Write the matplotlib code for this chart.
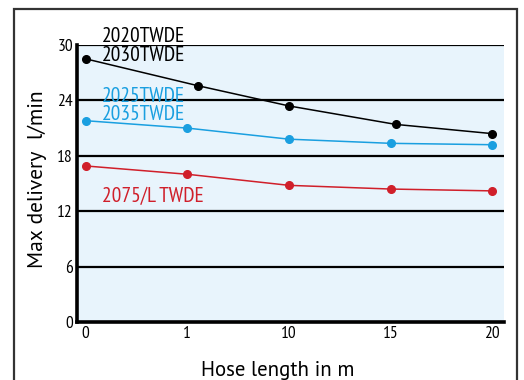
import matplotlib.pyplot as plt
from matplotlib.patches import Rectangle

# data
hose_labels = ['0', '1', '10', '15', '20']
x_pos = [0, 1, 2, 3, 4]
x_black = [0, 1.1, 2, 3.05, 4]
black_vals = [28.5, 25.6, 23.4, 21.4, 20.4]
blue_vals = [21.8, 21.0, 19.8, 19.35, 19.2]
red_vals = [16.9, 16.0, 14.8, 14.4, 14.2]
y_ticks = [0, 6, 12, 18, 24, 30]

narrow = ['PT Sans Narrow', 'DejaVu Sans']
label_font = ['PT Sans', 'DejaVu Sans']

blue = '#1a9fe0'
red = '#d01f2a'

fig = plt.figure(figsize=(5.24, 3.80), dpi=100)
ax = fig.add_axes([77 / 524, 58 / 380, 427 / 524, 277 / 380])
ax.set_facecolor('#e8f4fc')

# outer frame
fig.patches.append(Rectangle((14 / 524, -0.05), 503 / 524, 1.05 - 9 / 380,
                             transform=fig.transFigure, fill=False,
                             edgecolor='#333333', linewidth=1.6))

for y in y_ticks[1:]:
    ax.axhline(y, color='black', linewidth=1.6, zorder=1)

ax.plot(x_black, black_vals, color='black', linewidth=1.1, marker='o', markersize=5.5, zorder=3)
ax.plot(x_pos, blue_vals, color=blue, linewidth=1.1, marker='o', markersize=5.5, zorder=3)
ax.plot(x_pos, red_vals, color=red, linewidth=1.1, marker='o', markersize=5.5, zorder=3)

ax.set_xlim(-0.086, 4.115)
ax.set_ylim(0, 30)
ax.set_xticks(x_pos)
ax.set_xticklabels(hose_labels, family=narrow, fontsize=12.5)
ax.set_yticks(y_ticks)
ax.set_yticklabels([str(v) for v in y_ticks], family=narrow, fontsize=12.5)
ax.tick_params(length=0, pad=3)

for side in ['top', 'right']:
    ax.spines[side].set_visible(False)
for side in ['left', 'bottom']:
    ax.spines[side].set_linewidth(2.6)

txt = dict(family=narrow, fontsize=15.5, ha='left', va='baseline', clip_on=False)
ax.text(0.157, 30.3, '2020TWDE', color='black', **txt)
ax.text(0.157, 28.3, '2030TWDE', color='black', **txt)
ax.text(0.157, 23.86, '2025TWDE', color=blue, **txt)
ax.text(0.157, 21.88, '2035TWDE', color=blue, **txt)
ax.text(0.157, 12.96, '2075/L TWDE', color=red, **txt)

fig.text(278 / 524, 1 - 370 / 380, 'Hose length in m', family=label_font,
         fontsize=15, ha='center', va='center')
fig.text(37 / 524, 1 - 179 / 380, 'Max delivery  l/min', family=label_font,
         fontsize=15.5, ha='center', va='center', rotation=90)

fig.savefig('out.png', dpi=100)
